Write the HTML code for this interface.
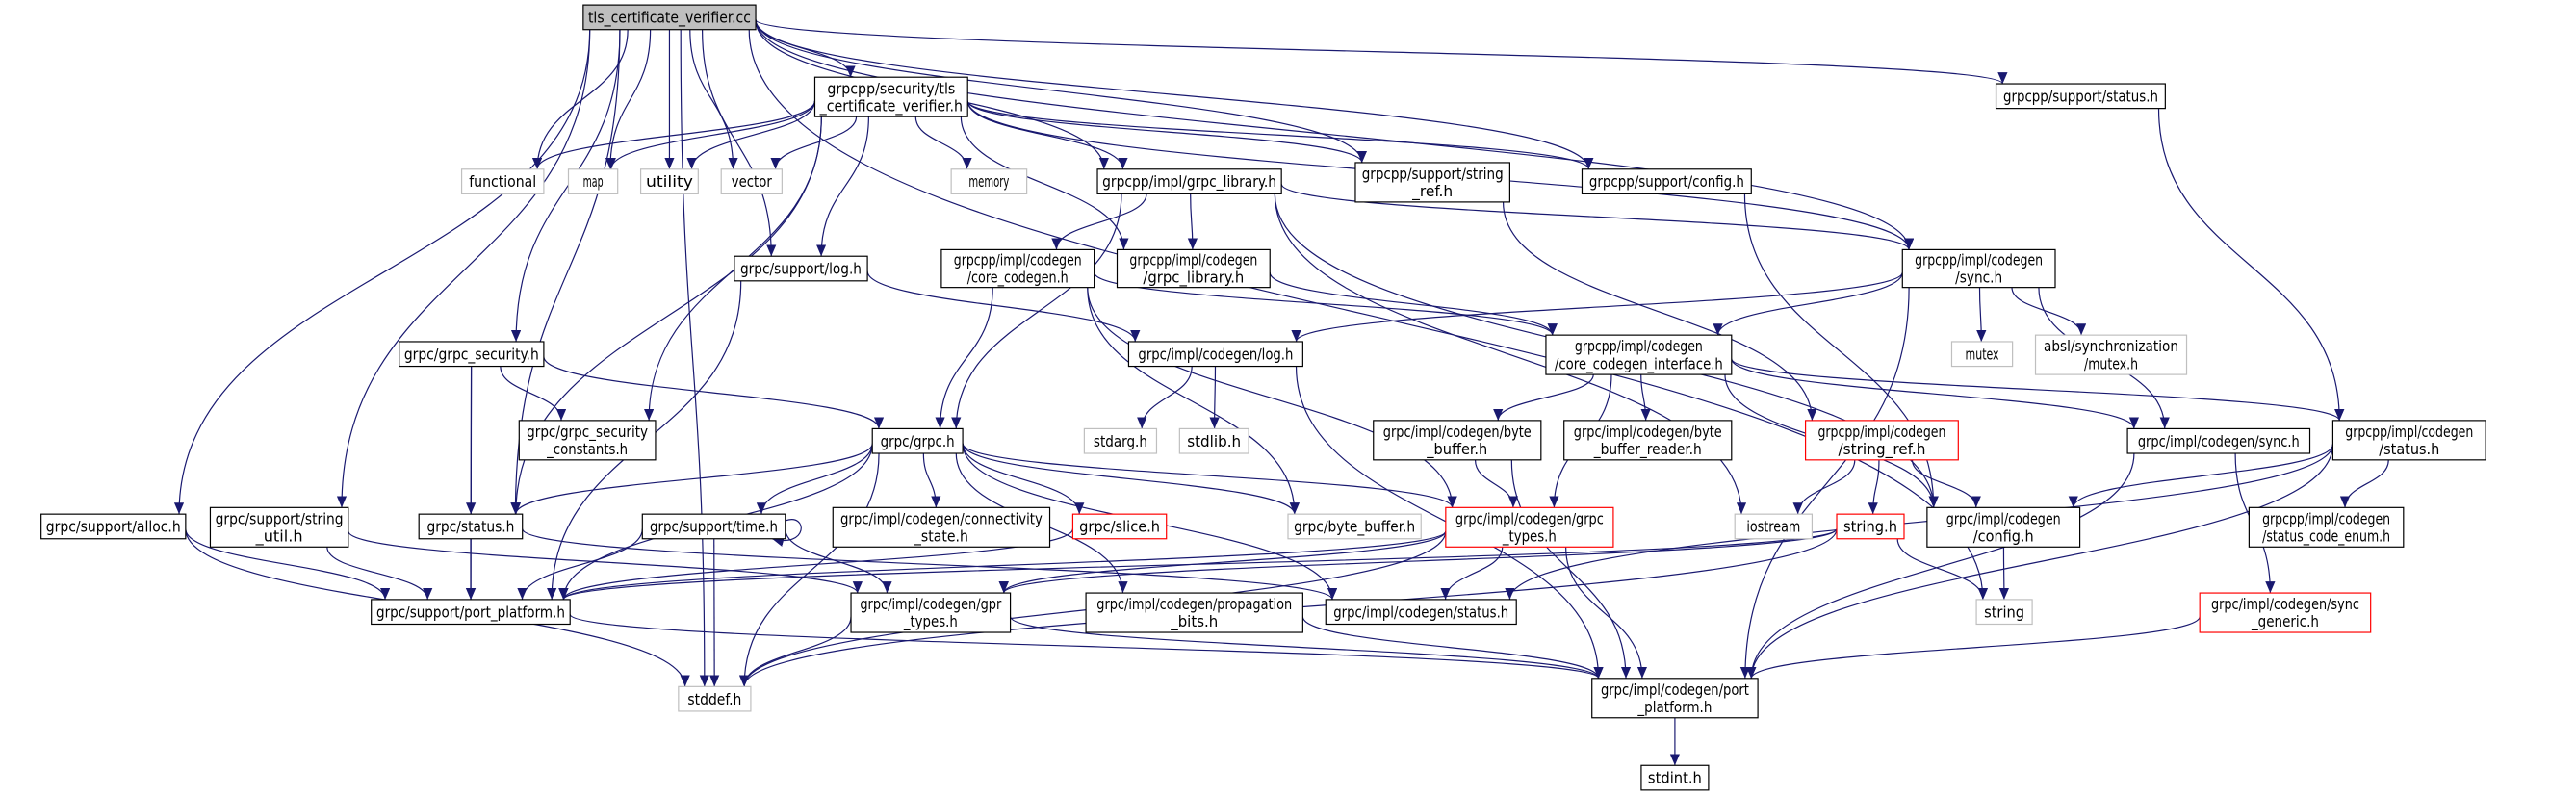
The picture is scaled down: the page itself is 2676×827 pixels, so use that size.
<!DOCTYPE html>
<html><head><meta charset="utf-8"><style>
html,body{margin:0;padding:0;background:#fff;}
svg{display:block;}
text{font-family:"DejaVu Sans Condensed","Liberation Sans Narrow","Liberation Sans",sans-serif;font-size:9.5px;fill:#000;}
</style></head><body>
<svg id="g" xmlns="http://www.w3.org/2000/svg" width="2676" height="827" viewBox="0 0 1568 484.6" preserveAspectRatio="none">
<defs><marker id="a" markerUnits="userSpaceOnUse" markerWidth="9" markerHeight="7" refX="7" refY="3" orient="auto"><path d="M0,0 L7,3 L0,6 Z" fill="#191970"/></marker></defs>
<g id="E" fill="none" stroke="#191970" stroke-width="0.7"></g>
<g id="N"></g>
</svg>
<script>
var N={
root:[355,3,105,15,["tls_certificate_verifier.cc"],"root"],
tlsh:[496,47,93,24,["grpcpp/security/tls","_certificate_verifier.h"],"n"],
sstat:[1215,51,103,15,["grpcpp/support/status.h"],"n"],
functional:[281,103,50,15,["functional"],"g"],
map:[346,103,30,15,["map"],"g"],
utility:[390,103,35,15,["utility"],"g"],
vector:[439,103,37,15,["vector"],"g"],
memory:[579,103,46,15,["memory"],"g"],
glib:[668,103,112,15,["grpcpp/impl/grpc_library.h"],"n"],
sref:[825,99,94,24,["grpcpp/support/string","_ref.h"],"n"],
sconf:[963,103,103,15,["grpcpp/support/config.h"],"n"],
log:[447,156,81,15,["grpc/support/log.h"],"n"],
ccore:[573,152,93,23,["grpcpp/impl/codegen","/core_codegen.h"],"n"],
cglib:[680,152,93,23,["grpcpp/impl/codegen","/grpc_library.h"],"n"],
csync:[1158,152,93,23,["grpcpp/impl/codegen","/sync.h"],"n"],
gsec:[243,208,88,15,["grpc/grpc_security.h"],"n"],
clog:[687,208,106,15,["grpc/impl/codegen/log.h"],"n"],
cci:[941,204,113,24,["grpcpp/impl/codegen","/core_codegen_interface.h"],"n"],
mutex:[1188,208,37,15,["mutex"],"g"],
absl:[1239,204,92,24,["absl/synchronization","/mutex.h"],"g"],
gsecc:[316,256,83,24,["grpc/grpc_security","_constants.h"],"n"],
ggrpc:[531,261,55,15,["grpc/grpc.h"],"n"],
stdarg:[660,261,44,15,["stdarg.h"],"g"],
stdlib:[718,261,42,15,["stdlib.h"],"g"],
cbb:[836,256,102,24,["grpc/impl/codegen/byte","_buffer.h"],"n"],
cbbr:[952,256,102,24,["grpc/impl/codegen/byte","_buffer_reader.h"],"n"],
cstrref:[1099,256,93,24,["grpcpp/impl/codegen","/string_ref.h"],"r"],
gsync:[1295,261,111,15,["grpc/impl/codegen/sync.h"],"n"],
cstatus:[1420,256,93,24,["grpcpp/impl/codegen","/status.h"],"n"],
alloc:[25,313,88,15,["grpc/support/alloc.h"],"n"],
strutil:[128,309,84,24,["grpc/support/string","_util.h"],"n"],
gstatus:[255,313,63,15,["grpc/status.h"],"n"],
stime:[391,313,87,15,["grpc/support/time.h"],"n"],
conn:[507,309,132,24,["grpc/impl/codegen/connectivity","_state.h"],"n"],
slice:[653,313,57,15,["grpc/slice.h"],"r"],
bytebuf:[784,313,81,15,["grpc/byte_buffer.h"],"g"],
gtypes:[880,309,102,24,["grpc/impl/codegen/grpc","_types.h"],"r"],
iostream:[1056,313,47,15,["iostream"],"g"],
stringh:[1118,313,41,15,["string.h"],"r"],
cconfig:[1173,309,93,24,["grpc/impl/codegen","/config.h"],"n"],
cstatcode:[1369,309,94,24,["grpcpp/impl/codegen","/status_code_enum.h"],"n"],
spp:[226,365,121,15,["grpc/support/port_platform.h"],"n"],
gpr:[518,361,97,24,["grpc/impl/codegen/gpr","_types.h"],"n"],
prop:[661,361,132,24,["grpc/impl/codegen/propagation","_bits.h"],"n"],
cstatusc:[807,365,116,15,["grpc/impl/codegen/status.h"],"n"],
string:[1203,365,34,15,["string"],"g"],
syncgen:[1339,361,104,24,["grpc/impl/codegen/sync","_generic.h"],"r"],
stddef:[413,418,44,15,["stddef.h"],"g"],
cport:[969,413,101,24,["grpc/impl/codegen/port","_platform.h"],"n"],
stdint:[999,466,41,15,["stdint.h"],"n"]
};
var E="root>tlsh functional map utility vector glib sref sconf sstat log gsec gstatus alloc strutil stddef string csync;"+
"tlsh>functional map utility vector memory glib sref sconf log gsecc gstatus cglib csync;"+
"sstat>cstatus;glib>cglib ccore ggrpc iostream cconfig csync;sref>cstrref;sconf>cconfig;log>clog spp;"+
"ccore>cci ggrpc bytebuf gtypes;cglib>cci;csync>clog cci mutex absl gsync cport;gsec>gsecc gstatus spp ggrpc;"+
"clog>stdarg stdlib cport;cci>cbb cbbr gtypes cconfig gsync cstatus;"+
"ggrpc>gstatus stime conn slice bytebuf gtypes stddef spp prop cstatusc;cbb>gtypes cport;cstrref>iostream stringh cconfig;"+
"gsync>cport syncgen;cstatus>cconfig cstatcode cport cstatusc;alloc>spp stddef;strutil>spp gpr;gstatus>spp cstatusc;"+
"stime>spp stddef gpr;slice>spp;gtypes>gpr cstatusc cport spp stddef;stringh>string spp gpr stddef;cconfig>string;"+
"syncgen>cport;spp>cport;gpr>stddef cport;prop>cport;cport>stdint";
var ns="http://www.w3.org/2000/svg",Eg=document.getElementById("E"),Ng=document.getElementById("N");
function el(t,a,p){var e=document.createElementNS(ns,t);for(var k in a)e.setAttribute(k,a[k]);p.appendChild(e);return e;}
E.split(";").forEach(function(s){var p=s.split(">"),a=N[p[0]];p[1].split(" ").forEach(function(t){var b=N[t];
 var acx=a[0]+a[2]/2,bcx=b[0]+b[2]/2,d;
 var dy=b[1]-(a[1]+a[3]);
 if(dy>3){
  var sx,sy;
  if(Math.abs(bcx-acx)>2.5*dy+a[2]/2){sx=bcx<acx?a[0]:a[0]+a[2];sy=a[1]+a[3]*0.6;}
  else{sx=Math.max(a[0]+4,Math.min(a[0]+a[2]-4,acx+(bcx-acx)*0.25));sy=a[1]+a[3];}
  var ex=Math.max(b[0]+4,Math.min(b[0]+b[2]-4,bcx+(sx-bcx)*0.3)),ey=b[1];
  var m=(ey-sy)*0.5;
  d="M"+sx+","+sy+" C"+sx+","+(sy+m)+" "+ex+","+(ey-m)+" "+ex+","+ey;
 }else{
  var l=bcx<acx,sx=l?a[0]:a[0]+a[2],sy=a[1]+a[3]/2,ex=l?b[0]+b[2]:b[0],ey=b[1]+b[3]/2,m=(ex-sx)*0.5;
  d="M"+sx+","+sy+" C"+(sx+m)+","+sy+" "+(ex-m)+","+ey+" "+ex+","+ey;
 }
 el("path",{d:d,"marker-end":"url(#a)"},Eg);
});});
el("path",{d:"M478,317 C492,312 492,334 470,328","marker-end":"url(#a)"},Eg);
for(var k in N){var n=N[k],st=n[5];
 var fill=st=="root"?"#bfbfbf":"#fff",str=st=="g"?"#bfbfbf":st=="r"?"#ff0000":"#000";
 el("rect",{x:n[0],y:n[1],width:n[2],height:n[3],fill:fill,stroke:str,"stroke-width":0.7},Ng);
 var L=n[4];L.forEach(function(t,i){
  var y=n[1]+n[3]/2+3.3+(L.length==2?(i==0?-5.3:5.3):0);
  var tx=el("text",{x:n[0]+n[2]/2,y:y,"text-anchor":"middle"},Ng);tx.textContent=t;
  var w=t.length*4.1; if(w>n[2]-6)w=n[2]-6;
  tx.setAttribute("textLength",w);tx.setAttribute("lengthAdjust","spacingAndGlyphs");
 });
}
</script>
</body></html>
